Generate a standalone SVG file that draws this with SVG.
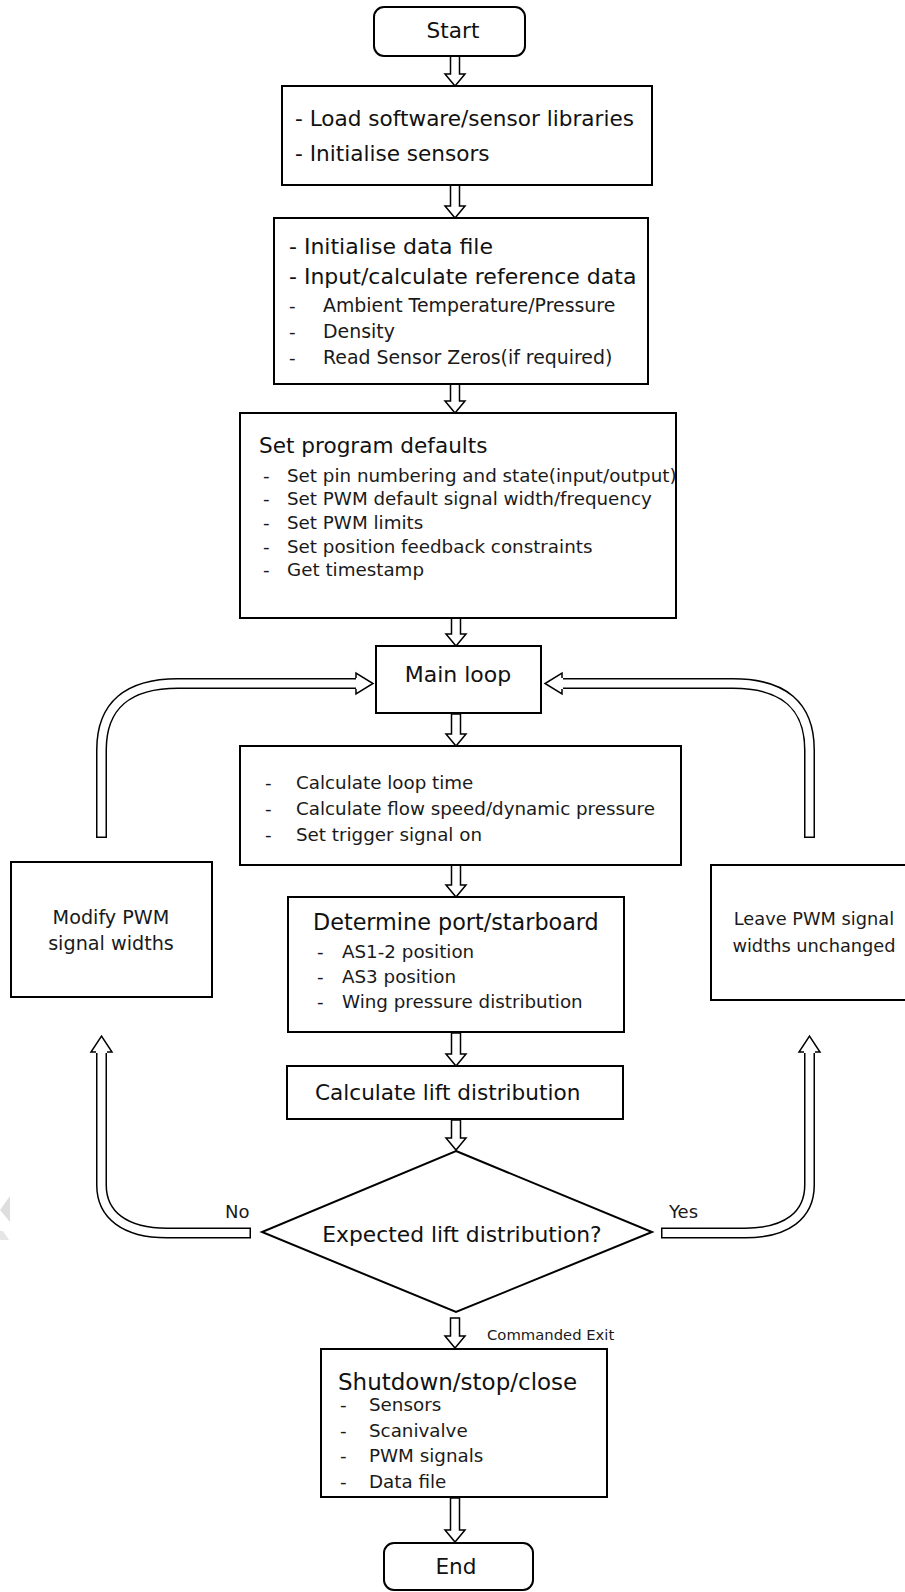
<svg xmlns="http://www.w3.org/2000/svg" width="905" height="1592" viewBox="0 0 905 1592">
<style>
.box{fill:#fff;stroke:#000;stroke-width:2}
.h{font-family:"DejaVu Sans",sans-serif;font-size:21.6px;fill:#111}
.s{font-family:"DejaVu Sans",sans-serif;font-size:18.3px;fill:#1a1a1a}
.side{font-family:"DejaVu Sans",sans-serif;font-size:17.8px;fill:#1a1a1a}
.lbl{font-family:"DejaVu Sans",sans-serif;font-size:18px;fill:#1a1a1a}
.ce{font-family:"DejaVu Sans",sans-serif;font-size:14.8px;fill:#1a1a1a}
.arr{fill:#fff;stroke:#000;stroke-width:1.5;stroke-linejoin:miter}
.po{fill:none;stroke:#000;stroke-width:11}
.pi{fill:none;stroke:#fff;stroke-width:8}
.hd{fill:#fff;stroke:#000;stroke-width:1.5}
</style>
<rect width="905" height="1592" fill="#fff"/>
<polygon points="10,1196 10,1222 0,1210" fill="#dedede"/>
<polygon points="0,1231 3,1231 9,1240 0,1240" fill="#e6e6e6"/>

<g id="connectors">
<polygon class="arr" points="450.5,56 459.5,56 459.5,74 465,74 455,86 445,74 450.5,74"/>
<polygon class="arr" points="450.5,185 459.5,185 459.5,206 465,206 455,218 445,206 450.5,206"/>
<polygon class="arr" points="450.5,384 459.5,384 459.5,401 465,401 455,413 445,401 450.5,401"/>
<polygon class="arr" points="451.5,618 460.5,618 460.5,634 466,634 456,646 446,634 451.5,634"/>
<polygon class="arr" points="451.5,714 460.5,714 460.5,734 466,734 456,746 446,734 451.5,734"/>
<polygon class="arr" points="451.5,865 460.5,865 460.5,885 466,885 456,897 446,885 451.5,885"/>
<polygon class="arr" points="451.5,1033 460.5,1033 460.5,1054 466,1054 456,1066 446,1054 451.5,1054"/>
<polygon class="arr" points="451.5,1120 460.5,1120 460.5,1138 466,1138 456,1150 446,1138 451.5,1138"/>
<polygon class="arr" points="450.5,1318 459.5,1318 459.5,1336 465,1336 455,1348 445,1336 450.5,1336"/>
<polygon class="arr" points="450.5,1498 459.5,1498 459.5,1530 465,1530 455,1542 445,1530 450.5,1530"/>

<path class="po" d="M101.5,838 L101.5,750 C101.5,705 128,683.5 178,683.5 L357,683.5"/>
<path class="pi" d="M101.5,836.5 L101.5,750 C101.5,705 128,683.5 178,683.5 L357.5,683.5"/>
<path class="hd" d="M356,678 L356,673 L373,683.5 L356,694 L356,689"/>

<path class="po" d="M809.5,838 L809.5,750 C809.5,705 783,683.5 733,683.5 L563,683.5"/>
<path class="pi" d="M809.5,836.5 L809.5,750 C809.5,705 783,683.5 733,683.5 L562.5,683.5"/>
<path class="hd" d="M562,678 L562,673 L545,683.5 L562,694 L562,689"/>

<path class="po" d="M251,1233 L167,1233 C125,1233 101.5,1215 101.5,1185 L101.5,1053"/>
<path class="pi" d="M249.5,1233 L167,1233 C125,1233 101.5,1215 101.5,1185 L101.5,1052.5"/>
<path class="hd" d="M96,1052 L91,1052 L101.5,1036 L112,1052 L107,1052"/>

<path class="po" d="M661,1233 L745,1233 C787,1233 809.5,1215 809.5,1185 L809.5,1053"/>
<path class="pi" d="M662.5,1233 L745,1233 C787,1233 809.5,1215 809.5,1185 L809.5,1052.5"/>
<path class="hd" d="M804,1052 L799,1052 L809.5,1036 L820,1052 L815,1052"/>

<text class="lbl" x="225" y="1218">No</text>
<text class="lbl" x="669" y="1218">Yes</text>
<text class="ce" x="487" y="1340">Commanded Exit</text>
</g>

<g id="start">
<rect class="box" x="374" y="7" width="151" height="49" rx="10"/>
<text class="h" x="453" y="38" text-anchor="middle">Start</text>
</g>

<g id="init">
<rect class="box" x="282" y="86" width="370" height="99"/>
<text class="h" x="295" y="126">- Load software/sensor libraries</text>
<text class="h" x="295" y="161">- Initialise sensors</text>
</g>

<g id="data">
<rect class="box" x="274" y="218" width="374" height="166"/>
<text class="h" x="289" y="254" style="font-size:22px">- Initialise data file</text>
<text class="h" x="289" y="284" style="font-size:22px">- Input/calculate reference data</text>
<text class="s" x="289" y="312">-</text>
<text class="s" x="323" y="312" style="font-size:18.9px">Ambient Temperature/Pressure</text>
<text class="s" x="289" y="338">-</text>
<text class="s" x="323" y="338" style="font-size:18.9px">Density</text>
<text class="s" x="289" y="364">-</text>
<text class="s" x="323" y="364" style="font-size:18.9px">Read Sensor Zeros(if required)</text>
</g>

<g id="defaults">
<rect class="box" x="240" y="413" width="436" height="205"/>
<text class="h" x="259" y="453">Set program defaults</text>
<text class="s" x="263" y="482">-</text>
<text class="s" x="287" y="482">Set pin numbering and state(input/output)</text>
<text class="s" x="263" y="505">-</text>
<text class="s" x="287" y="505">Set PWM default signal width/frequency</text>
<text class="s" x="263" y="529">-</text>
<text class="s" x="287" y="529">Set PWM limits</text>
<text class="s" x="263" y="553">-</text>
<text class="s" x="287" y="553">Set position feedback constraints</text>
<text class="s" x="263" y="576">-</text>
<text class="s" x="287" y="576">Get timestamp</text>
</g>

<g id="mainloop">
<rect class="box" x="376" y="646" width="165" height="67"/>
<text class="h" x="458" y="682" text-anchor="middle" style="font-size:22px">Main loop</text>
</g>

<g id="calc">
<rect class="box" x="240" y="746" width="441" height="119"/>
<text class="s" x="265" y="789">-</text>
<text class="s" x="296" y="789">Calculate loop time</text>
<text class="s" x="265" y="815">-</text>
<text class="s" x="296" y="815">Calculate flow speed/dynamic pressure</text>
<text class="s" x="265" y="841">-</text>
<text class="s" x="296" y="841">Set trigger signal on</text>
</g>

<g id="modify">
<rect class="box" x="11" y="862" width="201" height="135"/>
<text class="side" x="111" y="924" text-anchor="middle" style="font-size:19.2px">Modify PWM</text>
<text class="side" x="111" y="950" text-anchor="middle" style="font-size:19.2px">signal widths</text>
</g>

<g id="leave">
<rect class="box" x="711" y="865" width="200" height="135"/>
<text class="side" x="814" y="925" text-anchor="middle">Leave PWM signal</text>
<text class="side" x="814" y="952" text-anchor="middle">widths unchanged</text>
</g>

<g id="determine">
<rect class="box" x="288" y="897" width="336" height="135"/>
<text class="h" x="313" y="930" style="font-size:22.3px">Determine port/starboard</text>
<text class="s" x="317" y="958">-</text>
<text class="s" x="342" y="958">AS1-2 position</text>
<text class="s" x="317" y="983">-</text>
<text class="s" x="342" y="983">AS3 position</text>
<text class="s" x="317" y="1008">-</text>
<text class="s" x="342" y="1008">Wing pressure distribution</text>
</g>

<g id="lift">
<rect class="box" x="287" y="1066" width="336" height="53"/>
<text class="h" x="315" y="1100">Calculate lift distribution</text>
</g>

<g id="decision">
<polygon class="box" points="456,1151 652,1232 456,1312 262,1232"/>
<text class="h" x="462" y="1242" text-anchor="middle" style="font-size:21.8px">Expected lift distribution?</text>
</g>

<g id="shutdown">
<rect class="box" x="321" y="1349" width="286" height="148"/>
<text class="h" x="338" y="1390" style="font-size:23px">Shutdown/stop/close</text>
<text class="s" x="340" y="1411">-</text>
<text class="s" x="369" y="1411">Sensors</text>
<text class="s" x="340" y="1437">-</text>
<text class="s" x="369" y="1437">Scanivalve</text>
<text class="s" x="340" y="1462">-</text>
<text class="s" x="369" y="1462">PWM signals</text>
<text class="s" x="340" y="1488">-</text>
<text class="s" x="369" y="1488">Data file</text>
</g>

<g id="end">
<rect class="box" x="384" y="1543" width="149" height="47" rx="10"/>
<text class="h" x="456" y="1574" text-anchor="middle">End</text>
</g>
</svg>
